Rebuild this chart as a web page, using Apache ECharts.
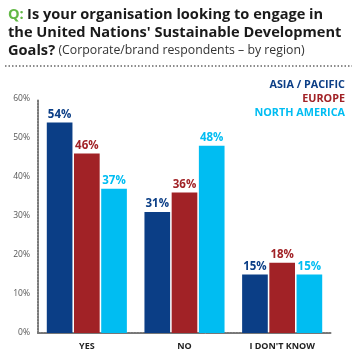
<!DOCTYPE html>
<html><head><meta charset="utf-8">
<script src="https://cdn.jsdelivr.net/npm/echarts@6/dist/echarts.min.js"></script>
<style>html,body{margin:0;padding:0;background:#fff}#c{width:357px;height:363px}</style>
</head><body><div id="c"></div>
<script>
const categories = ['YES', 'NO', "I DON'T KNOW"];
const seriesNames = ['ASIA / PACIFIC', 'EUROPE', 'NORTH AMERICA'];
const asiaPacific = [54, 31, 15];
const europe = [46, 36, 18];
const northAmerica = [37, 48, 15];
const yTicks = [0, 10, 20, 30, 40, 50, 60];
const colors = ['#0b3e86', '#a12226', '#00bdf2'];
const allValues = [asiaPacific, europe, northAmerica];

const chart = echarts.init(document.getElementById('c'), null, {renderer: 'canvas'});
const FONT = 'Open Sans';
const series = seriesNames.map((n, i) => ({
  name: n, type: 'bar', data: allValues[i], barGap: '6%', barCategoryGap: '18%',
  itemStyle: {color: colors[i]},
  label: {show: true, position: 'top', distance: 2, formatter: '{c}%', color: colors[i],
    fontFamily: FONT, fontWeight: 'bold', fontSize: 11.5}
}));
const legendTexts = seriesNames.map((n, i) => ({
  type: 'text', right: 12, top: 79 + i * 14,
  style: {text: n, fill: colors[i], font: 'bold 10.8px "' + FONT + '"', textAlign: 'right'}
}));
chart.setOption({
  animation: false,
  grid: {left: 38, right: 26, top: 99, bottom: 30, containLabel: false},
  xAxis: {type: 'category', data: categories,
    axisLine: {show: true, lineStyle: {color: '#777', type: [1.5, 1.5], width: 2}},
    axisTick: {show: false},
    axisLabel: {color: '#222', fontFamily: FONT, fontWeight: 'bold', fontSize: 9, margin: 9}},
  yAxis: {type: 'value', min: yTicks[0], max: yTicks[yTicks.length - 1], interval: 10,
    axisLine: {show: true, lineStyle: {color: '#777', type: [1.5, 1.5], width: 2}},
    axisTick: {show: false}, splitLine: {show: false},
    axisLabel: {color: '#555', fontFamily: FONT, fontSize: 8.5, margin: 8, formatter: '{value}%'}},
  series: series,
  graphic: [
    {type: 'text', left: 8, top: 7, style: {rich: {
      q: {fill: '#62b846', font: 'bold 14.6px "' + FONT + '"'},
      b: {fill: '#1a1a1a', font: 'bold 14.6px "' + FONT + '"'}},
      text: '{q|Q:} {b|Is your organisation looking to engage in}'}},
    {type: 'text', left: 8, top: 25, style: {fill: '#1a1a1a', font: 'bold 14.6px "' + FONT + '"',
      text: "the United Nations' Sustainable Development"}},
    {type: 'text', left: 8, top: 43, style: {rich: {
      b: {fill: '#1a1a1a', font: 'bold 14.6px "' + FONT + '"'},
      n: {fill: '#333', font: '12.3px "' + FONT + '"'}},
      text: '{b|Goals?} {n|(Corporate/brand respondents – by region)}'}},
    {type: 'line', shape: {x1: 5, y1: 66, x2: 352, y2: 66},
      style: {stroke: '#666', lineWidth: 1.5, lineDash: [1.5, 2]}}
  ].concat(legendTexts)
});
</script></body></html>
